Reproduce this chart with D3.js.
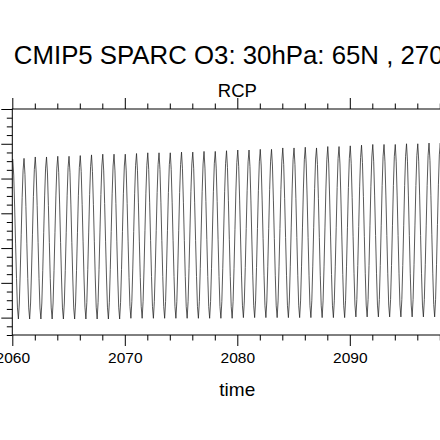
<!DOCTYPE html>
<html>
<head>
<meta charset="utf-8">
<script src="https://cdn.jsdelivr.net/npm/d3@7"></script>
<style>
  body { margin: 0; background: #fff; }
  svg { display: block; }
  text { font-family: "Liberation Sans", Arial, Helvetica, sans-serif; fill: #000; }
</style>
</head>
<body>
<div id="chart"></div>
<script>
var width = 440;
var height = 440;

var title = "CMIP5 SPARC O3: 30hPa: 65N , 270E";
var subtitle = "RCP";
var xLabel = "time";

var years = d3.range(2060, 2100);
var xTickYears = [2060, 2070, 2080, 2090, 2100];

// monthly O3 (ppmv) per year, Jan..Dec
var o3 = [
  [5.78,5.55,5.09,4.56,4.06,3.64,3.48,3.71,4.17,4.70,5.23,5.62],
  [5.79,5.56,5.10,4.57,4.06,3.64,3.48,3.71,4.17,4.70,5.24,5.63],
  [5.81,5.58,5.11,4.58,4.06,3.64,3.48,3.71,4.18,4.72,5.25,5.65],
  [5.81,5.58,5.11,4.58,4.06,3.64,3.48,3.71,4.18,4.72,5.25,5.65],
  [5.82,5.59,5.12,4.58,4.07,3.64,3.48,3.71,4.18,4.72,5.26,5.66],
  [5.82,5.59,5.12,4.58,4.07,3.64,3.48,3.71,4.18,4.72,5.26,5.66],
  [5.83,5.60,5.13,4.59,4.07,3.65,3.48,3.72,4.19,4.73,5.27,5.67],
  [5.84,5.60,5.13,4.59,4.07,3.65,3.48,3.72,4.19,4.73,5.27,5.68],
  [5.85,5.61,5.14,4.59,4.07,3.65,3.48,3.72,4.19,4.74,5.28,5.68],
  [5.85,5.61,5.14,4.59,4.07,3.65,3.48,3.72,4.19,4.74,5.28,5.68],
  [5.85,5.61,5.14,4.60,4.08,3.66,3.49,3.73,4.20,4.74,5.28,5.69],
  [5.86,5.62,5.15,4.60,4.08,3.66,3.49,3.73,4.20,4.75,5.29,5.69],
  [5.87,5.63,5.16,4.61,4.09,3.66,3.49,3.73,4.20,4.75,5.30,5.70],
  [5.87,5.63,5.16,4.61,4.09,3.66,3.49,3.73,4.20,4.75,5.30,5.70],
  [5.87,5.63,5.16,4.61,4.09,3.66,3.49,3.73,4.20,4.75,5.30,5.70],
  [5.88,5.64,5.16,4.61,4.09,3.66,3.49,3.73,4.21,4.76,5.31,5.71],
  [5.88,5.64,5.16,4.61,4.09,3.66,3.49,3.73,4.21,4.76,5.31,5.71],
  [5.89,5.65,5.17,4.62,4.09,3.66,3.49,3.73,4.21,4.76,5.31,5.72],
  [5.89,5.65,5.17,4.62,4.09,3.66,3.49,3.73,4.21,4.76,5.31,5.72],
  [5.90,5.66,5.18,4.62,4.09,3.66,3.49,3.73,4.21,4.77,5.32,5.73],
  [5.91,5.67,5.19,4.63,4.10,3.67,3.50,3.74,4.22,4.78,5.33,5.74],
  [5.91,5.67,5.19,4.63,4.10,3.67,3.50,3.74,4.22,4.78,5.33,5.74],
  [5.92,5.68,5.19,4.64,4.11,3.67,3.50,3.74,4.23,4.78,5.34,5.75],
  [5.92,5.68,5.19,4.64,4.11,3.67,3.50,3.74,4.23,4.78,5.34,5.75],
  [5.94,5.70,5.21,4.65,4.11,3.67,3.50,3.74,4.23,4.79,5.35,5.77],
  [5.94,5.70,5.21,4.65,4.11,3.67,3.50,3.74,4.23,4.79,5.35,5.77],
  [5.95,5.71,5.22,4.65,4.11,3.67,3.50,3.75,4.24,4.80,5.36,5.78],
  [5.94,5.70,5.21,4.65,4.11,3.67,3.50,3.74,4.23,4.79,5.35,5.77],
  [5.96,5.71,5.22,4.66,4.12,3.67,3.50,3.75,4.24,4.80,5.37,5.79],
  [5.96,5.71,5.22,4.66,4.12,3.67,3.50,3.75,4.24,4.80,5.37,5.79],
  [5.97,5.72,5.23,4.67,4.13,3.68,3.51,3.76,4.25,4.81,5.38,5.80],
  [5.98,5.73,5.24,4.67,4.13,3.68,3.51,3.76,4.25,4.82,5.39,5.81],
  [5.99,5.74,5.25,4.68,4.13,3.68,3.51,3.76,4.25,4.82,5.40,5.82],
  [5.99,5.74,5.25,4.68,4.13,3.68,3.51,3.76,4.25,4.82,5.40,5.82],
  [5.99,5.74,5.25,4.68,4.13,3.68,3.51,3.76,4.25,4.82,5.40,5.82],
  [6.00,5.75,5.25,4.68,4.13,3.68,3.51,3.76,4.26,4.83,5.40,5.83],
  [6.00,5.75,5.25,4.68,4.13,3.68,3.51,3.76,4.26,4.83,5.40,5.83],
  [6.01,5.76,5.26,4.69,4.14,3.69,3.51,3.76,4.26,4.84,5.41,5.84],
  [6.01,5.76,5.26,4.69,4.14,3.69,3.51,3.76,4.26,4.84,5.41,5.84],
  [6.02,5.77,5.27,4.69,4.14,3.69,3.51,3.76,4.26,4.84,5.42,5.84]
];

// y ticks (labels fall left of the visible area, so only marks are drawn)
var yTicks = [3.5, 4.0, 4.5, 5.0, 5.5, 6.0, 6.5];

// flatten to monthly points at mid-month
var series = [];
years.forEach(function(yr, i) {
    o3[i].forEach(function(v, m) {
        series.push({t: yr + (m + 0.5) / 12, v: v});
    });
});

var plot = {left: 12.3, right: 462.3, top: 109, bottom: 335};

var xScale = d3.scaleLinear().domain([2060, 2100]).range([plot.left, plot.right]);
var yScale = d3.scaleLinear().domain([3.25, 6.5]).range([plot.bottom, plot.top]);

var svg = d3.select("#chart")
    .append("svg")
    .attr("width", width)
    .attr("height", height);

// data line
var line = d3.line()
    .x(function(d) { return xScale(d.t); })
    .y(function(d) { return yScale(d.v); });

svg.append("path")
    .datum(series)
    .attr("fill", "none")
    .attr("stroke", "#222")
    .attr("stroke-width", 0.75)
    .attr("d", line);

// axes: major + minor ticks, pointing out
var xMinor = d3.range(2060, 2101, 2).filter(function(d) { return d % 10 != 0; });
var yMinor = d3.range(3.25, 6.51, 0.125).filter(function(d) { return yTicks.indexOf(d) < 0; });

// 2100 sits past the right edge of the window, so its label is left out
var xAxis = d3.axisBottom(xScale).tickValues(xTickYears).tickSize(11).tickPadding(6)
    .tickFormat(function(d) { return d < 2100 ? d3.format("d")(d) : ""; });
var xAxisMinor = d3.axisBottom(xScale).tickValues(xMinor).tickSize(5.5).tickFormat("");
var xTop = d3.axisTop(xScale).tickValues(xTickYears).tickSize(11).tickFormat("");
var xTopMinor = d3.axisTop(xScale).tickValues(xMinor).tickSize(5.5).tickFormat("");
var yAxis = d3.axisLeft(yScale).tickValues(yTicks).tickSize(11).tickFormat("");
var yAxisMinor = d3.axisLeft(yScale).tickValues(yMinor).tickSize(5.5).tickFormat("");

function styleAxis(g) {
    g.selectAll(".domain").remove();
    g.selectAll("line").attr("stroke", "#000").attr("stroke-width", 1);
    g.selectAll("text").style("font-size", "15.5px").attr("fill", "#000");
}

svg.append("g").attr("transform", "translate(0," + plot.bottom + ")").call(xAxis).call(styleAxis);
svg.append("g").attr("transform", "translate(0," + plot.bottom + ")").call(xAxisMinor).call(styleAxis);
svg.append("g").attr("transform", "translate(0," + plot.top + ")").call(xTop).call(styleAxis);
svg.append("g").attr("transform", "translate(0," + plot.top + ")").call(xTopMinor).call(styleAxis);
svg.append("g").attr("transform", "translate(" + plot.left + ",0)").call(yAxis).call(styleAxis);
svg.append("g").attr("transform", "translate(" + plot.left + ",0)").call(yAxisMinor).call(styleAxis);

// frame
svg.append("rect")
    .attr("x", plot.left)
    .attr("y", plot.top)
    .attr("width", plot.right - plot.left)
    .attr("height", plot.bottom - plot.top)
    .attr("fill", "none")
    .attr("stroke", "#000")
    .attr("stroke-width", 1);

var cx = (plot.left + plot.right) / 2;

svg.append("text")
    .attr("x", cx)
    .attr("y", 63.5)
    .attr("text-anchor", "middle")
    .style("font-size", "25.8px")
    .text(title);

svg.append("text")
    .attr("x", cx)
    .attr("y", 97.3)
    .attr("text-anchor", "middle")
    .style("font-size", "18.5px")
    .text(subtitle);

svg.append("text")
    .attr("x", cx)
    .attr("y", 396)
    .attr("text-anchor", "middle")
    .style("font-size", "19px")
    .text(xLabel);
</script>
</body>
</html>
